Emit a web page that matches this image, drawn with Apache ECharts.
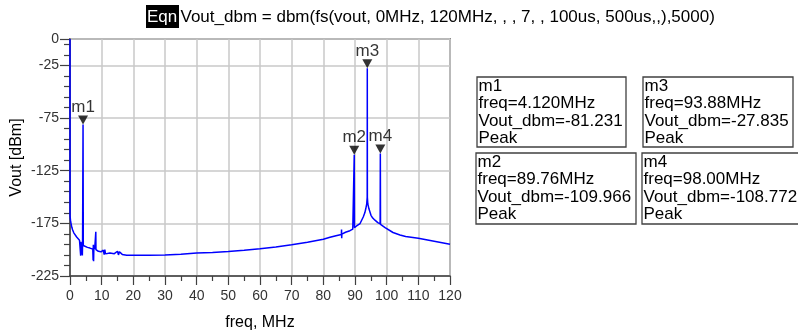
<!DOCTYPE html>
<html><head><meta charset="utf-8">
<script src="https://cdn.jsdelivr.net/npm/echarts@6/dist/echarts.min.js"></script>
<style>html,body{margin:0;padding:0;background:#fff}#c{width:798px;height:336px}</style>
</head><body><div id="c"></div>
<script>
// Spectrum data (freq in MHz, Vout in dBm)
const freqMHz = [0, 0.02, 0.15, 0.32, 0.6, 0.84, 1.2, 1.58, 2.1, 2.63, 3.0, 3.3, 3.37, 3.45, 3.7, 3.85, 3.9, 3.97, 4.05, 4.12, 4.2, 4.74, 5.5, 6.3, 6.9, 7.2, 7.3, 7.37, 7.45, 7.55, 7.8, 8.1, 8.15, 8.2, 8.95, 9.8, 10.5, 10.8, 11.0, 11.2, 11.6, 12.6, 14, 15.0, 15.3, 15.6, 16.5, 17.9, 20, 22.1, 25, 30, 35, 40, 45, 50, 55, 60, 65, 70, 75, 80, 82.1, 84, 85.7, 85.75, 85.8, 85.85, 87, 88.4, 89.3, 89.7, 89.76, 89.82, 90.5, 91.6, 92.6, 93.1, 93.4, 93.7, 93.85, 93.88, 93.91, 94.05, 94.4, 95.05, 95.6, 96.3, 97.2, 97.94, 98.0, 98.06, 98.5, 99.5, 100, 102, 104.2, 106, 110, 115, 120];
const voutDbm = [0, -168, -172, -175, -179, -181.4, -184, -185.5, -188, -189.2, -191, -192.3, -205.7, -192.5, -193, -194, -205.5, -194, -195, -81.231, -196, -197, -197.8, -198.5, -199, -199.5, -210, -195.4, -211, -196, -199.5, -199.5, -183, -200, -201.6, -202, -200.5, -204.7, -200, -204, -202.5, -203.2, -203.8, -201.5, -205, -202, -204.5, -205.2, -205.3, -205.4, -205.4, -205, -204.3, -203.2, -202.6, -201.7, -200.6, -199.2, -197.5, -195.4, -193, -190.1, -188.3, -186.8, -185.6, -180.8, -189.2, -185.3, -183.5, -182, -180.5, -179.8, -109.966, -179.2, -177.5, -175.2, -169, -165, -161.2, -156.6, -150.3, -27.835, -150.3, -156.6, -161.2, -167.4, -170, -172, -174.3, -175.5, -108.772, -176, -177.5, -179, -180.7, -183.7, -186, -187.5, -189.2, -192, -194.8];

// Markers
const markerNames = ['m1', 'm2', 'm3', 'm4'];
const markerFreq = [4.12, 89.76, 93.88, 98.00];
const markerVout = [-81.231, -109.966, -27.835, -108.772];
const markerFreqText = ['4.120MHz', '89.76MHz', '93.88MHz', '98.00MHz'];
const markerVoutText = ['-81.231', '-109.966', '-27.835', '-108.772'];
const markerMode = ['Peak', 'Peak', 'Peak', 'Peak'];

// Axis ticks
const yTickLabels = [0, -25, -75, -125, -175, -225];
const titleEqn = 'Vout_dbm = dbm(fs(vout, 0MHz, 120MHz, , , 7, , 100us, 500us,,),5000)';
const xAxisName = 'freq, MHz';
const yAxisName = 'Vout [dBm]';

const FONT = '"Liberation Sans", Arial, sans-serif';
const chart = echarts.init(document.getElementById('c'), null, {renderer: 'canvas'});

const lineData = freqMHz.map((f, i) => [f, voutDbm[i]]);
const markData = markerNames.map((n, i) => ({name: n, value: [markerFreq[i], markerVout[i]]}));

const boxPos = [
  {x: 477, y: 77, w: 149, h: 70},
  {x: 476, y: 153, w: 160, h: 71},
  {x: 643, y: 77, w: 150, h: 70},
  {x: 642, y: 153, w: 170, h: 71}
];
const graphics = [
  {type: 'rect', shape: {x: 146, y: 5, width: 33, height: 23}, style: {fill: '#000'}},
  {type: 'text', x: 147, y: 17, style: {text: 'Eqn', fill: '#fff', fontSize: 17, fontFamily: FONT, verticalAlign: 'middle'}},
  {type: 'text', x: 180.5, y: 17, style: {text: titleEqn, fill: '#000', fontSize: 17, fontFamily: FONT, verticalAlign: 'middle'}}
];
markerNames.forEach((n, i) => {
  const b = boxPos[i];
  graphics.push({type: 'rect', shape: {x: b.x, y: b.y, width: b.w, height: b.h},
    style: {fill: 'none', stroke: '#404040', lineWidth: 1.3}});
  graphics.push({type: 'text', x: b.x + 1.5, y: b.y + 0.5,
    style: {text: n + '\nfreq=' + markerFreqText[i] + '\nVout_dbm=' + markerVoutText[i] + '\n' + markerMode[i],
      fill: '#000', fontSize: 17, fontFamily: FONT, lineHeight: 17.5, verticalAlign: 'top'}});
});

chart.setOption({
  animation: false,
  backgroundColor: '#fff',
  textStyle: {fontFamily: FONT},
  grid: {left: 70, right: 348, top: 39, bottom: 56, show: true, borderColor: '#8c8c8c', borderWidth: 2},
  xAxis: {
    type: 'value', min: 0, max: 120, interval: 10,
    name: xAxisName, nameLocation: 'middle', nameGap: 39,
    nameTextStyle: {fontSize: 16, color: '#000', fontFamily: FONT},
    axisLine: {show: true, onZero: false, lineStyle: {color: '#404040', width: 1.5}},
    axisTick: {show: true, length: 9, lineStyle: {color: '#404040', width: 1.2}},
    minorTick: {show: true, splitNumber: 2, length: 5, lineStyle: {color: '#404040', width: 1.2}},
    axisLabel: {fontSize: 14, color: '#333', margin: 13, fontFamily: FONT},
    splitLine: {show: true, lineStyle: {color: '#c8c8c8', width: 1.5}},
    minorSplitLine: {show: false}
  },
  yAxis: {
    type: 'value', min: -225, max: 0, interval: 50,
    name: yAxisName, nameLocation: 'middle', nameGap: 45,
    nameTextStyle: {fontSize: 16, color: '#000', fontFamily: FONT},
    axisLine: {show: true, onZero: false, lineStyle: {color: '#404040', width: 1.5}},
    axisTick: {show: true, length: 10, lineStyle: {color: '#404040', width: 1.2}},
    minorTick: {show: true, splitNumber: 5, length: 6, lineStyle: {color: '#404040', width: 1.2}},
    axisLabel: {fontSize: 14, color: '#333', margin: 11, fontFamily: FONT, showMaxLabel: true, showMinLabel: true,
      formatter: v => (yTickLabels.indexOf(Math.round(v)) >= 0 ? String(Math.round(v)) : '')},
    splitLine: {show: true, lineStyle: {color: '#c8c8c8', width: 1.5}}
  },
  series: [
    {type: 'line', data: lineData, showSymbol: false, symbol: 'none', clip: true,
      lineStyle: {color: '#0000ff', width: 1.5}, z: 3},
    {type: 'scatter', data: markData, symbol: 'path://M0,0L10,0L5,9Z', symbolSize: [10, 9],
      symbolOffset: [0, '-50%'], itemStyle: {color: '#000'}, z: 5,
      label: {show: true, position: 'top', distance: 0, formatter: '{b}', fontSize: 17, color: '#000', fontFamily: FONT}}
  ],
  graphic: graphics
});
</script></body></html>
